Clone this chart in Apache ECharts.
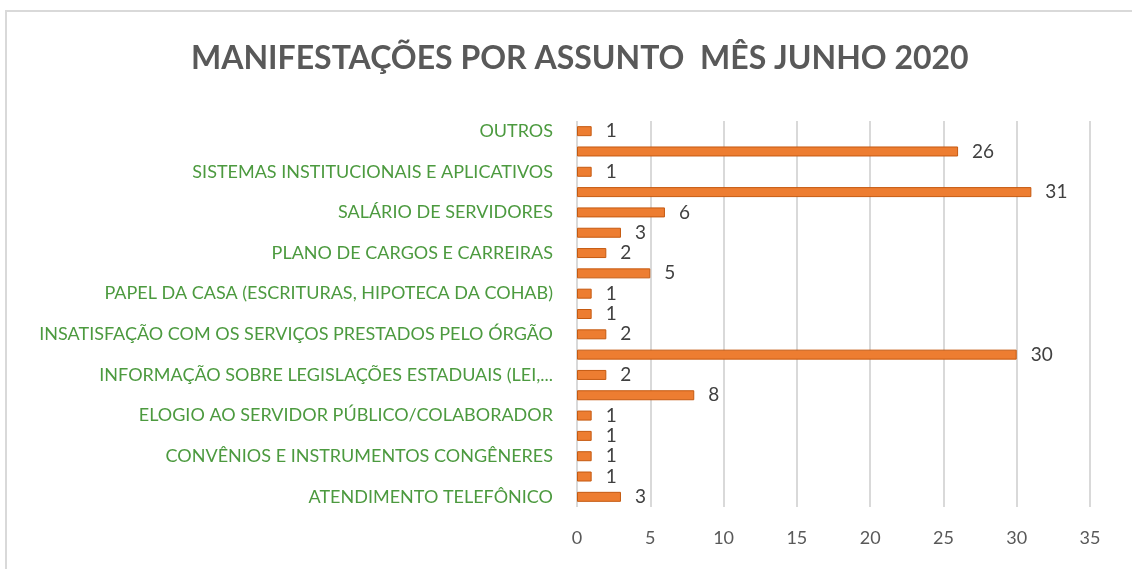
<!DOCTYPE html>
<html>
<head>
<meta charset="utf-8">
<script src="https://cdn.jsdelivr.net/npm/echarts@6/dist/echarts.min.js"></script>
<style>
  html, body { margin: 0; padding: 0; background: #fff; }
  #chart { width: 1132px; height: 569px; }
</style>
</head>
<body>
<div id="chart"></div>
<script>
// categorias de baixo para cima (rótulos ímpares ficam ocultos, como no original)
const categories = [
  'ATENDIMENTO TELEFÔNICO',
  'CADASTRO E ATUALIZAÇÃO DE DADOS',
  'CONVÊNIOS E INSTRUMENTOS CONGÊNERES',
  'DOCUMENTAÇÃO FUNCIONAL',
  'ELOGIO AO SERVIDOR PÚBLICO/COLABORADOR',
  'IMPOSTO DE RENDA',
  'INFORMAÇÃO SOBRE LEGISLAÇÕES ESTADUAIS (LEI,...',
  'INFORMAÇÃO SOBRE SERVIÇOS',
  'INSATISFAÇÃO COM OS SERVIÇOS PRESTADOS PELO ÓRGÃO',
  'LICENÇAS E AFASTAMENTOS',
  'PAPEL DA CASA (ESCRITURAS, HIPOTECA DA COHAB)',
  'PENSÃO POR MORTE',
  'PLANO DE CARGOS E CARREIRAS',
  'PROCESSOS ADMINISTRATIVOS',
  'SALÁRIO DE SERVIDORES',
  'SEGUNDA VIA DE CONTRACHEQUE',
  'SISTEMAS INSTITUCIONAIS E APLICATIVOS',
  'SOLICITAÇÃO DE DOCUMENTOS',
  'OUTROS'
]
const values = [3, 1, 1, 1, 1, 8, 2, 30, 2, 1, 1, 5, 2, 3, 6, 31, 1, 26, 1]
const xTicks = [0, 5, 10, 15, 20, 25, 30, 35]

const chart = echarts.init(document.getElementById('chart'))

const option = {
  backgroundColor: '#fff',
  animation: false,
  title: {
    text: 'MANIFESTAÇÕES POR ASSUNTO  MÊS JUNHO 2020',
    left: 186,
    top: 38,
    textStyle: {
      fontFamily: 'Lato',
      fontWeight: 'bold',
      fontSize: 32,
      color: '#595959'
    }
  },
  graphic: [
    {
      type: 'rect',
      shape: { x: 6, y: 11, width: 1140, height: 600 },
      style: { fill: 'none', stroke: '#d9d9d9', lineWidth: 2 },
      silent: true
    }
  ],
  grid: {
    left: 577,
    right: 42,
    top: 121,
    bottom: 62
  },
  xAxis: {
    type: 'value',
    min: xTicks[0],
    max: xTicks[xTicks.length - 1],
    interval: 5,
    axisLine: { show: false },
    axisTick: { show: false },
    axisLabel: {
      margin: 22,
      fontFamily: 'Lato',
      fontSize: 18,
      color: '#595959'
    },
    splitLine: {
      lineStyle: { color: '#d9d9d9', width: 2 }
    }
  },
  yAxis: {
    type: 'category',
    data: categories,
    axisLine: { show: false },
    axisTick: { show: false },
    axisLabel: {
      interval: 1,
      margin: 24,
      fontFamily: 'Lato',
      fontSize: 18,
      color: '#4c9a3f'
    }
  },
  series: [
    {
      type: 'bar',
      data: values,
      barWidth: 10,
      itemStyle: {
        color: '#ED7D31',
        borderColor: '#C55A11',
        borderWidth: 1
      },
      label: {
        show: true,
        position: 'right',
        distance: 14,
        fontFamily: 'Lato',
        fontSize: 19,
        color: '#404040'
      }
    }
  ]
}

chart.setOption(option)
</script>
</body>
</html>
